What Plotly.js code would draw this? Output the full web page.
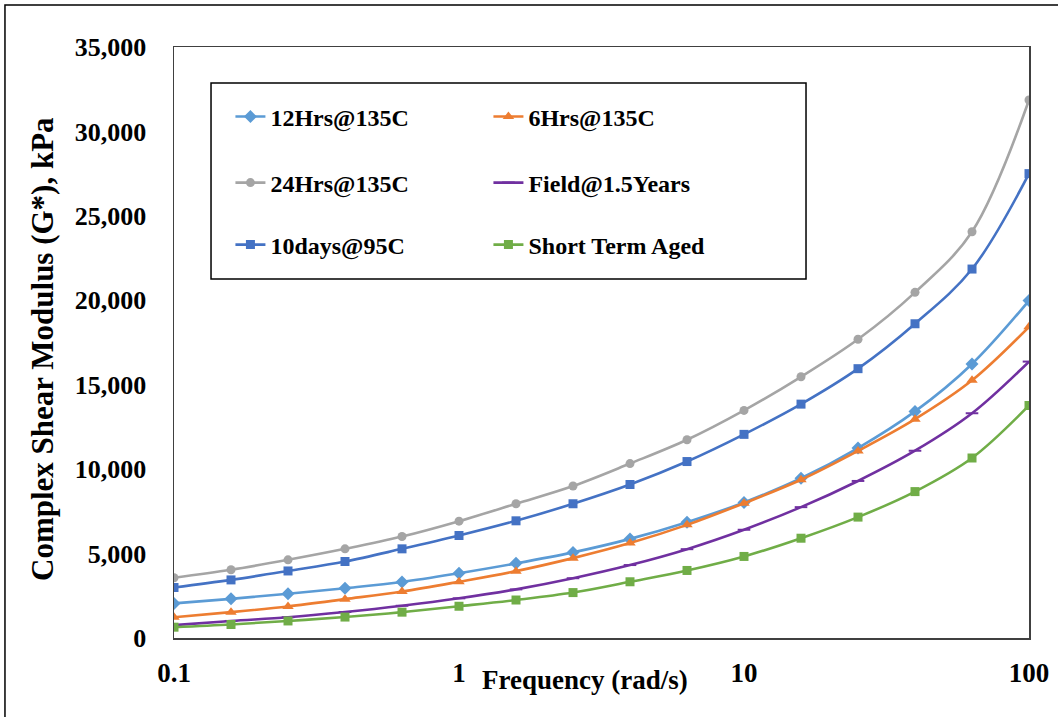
<!DOCTYPE html>
<html>
<head>
<meta charset="utf-8">
<script src="https://cdn.plot.ly/plotly-3.0.1.min.js"></script>
<style>html,body{margin:0;padding:0;background:#fff;}#chart{width:1058px;height:717px;}</style>
</head>
<body>
<div id="chart"></div>
<script>
// Frequency (rad/s)
var freq = [0.1, 0.1585, 0.2512, 0.3981, 0.631, 1, 1.585, 2.512, 3.981, 6.31, 10, 15.85, 25.12, 39.81, 63.1, 100];
// Complex shear modulus G*, kPa
var hrs12_135 = [2050, 2320, 2620, 2950, 3320, 3840, 4420, 5070, 5870, 6860, 8030, 9460, 11250, 13420, 16230, 19980];
var hrs6_135 = [1230, 1530, 1870, 2300, 2750, 3330, 3960, 4730, 5620, 6700, 7980, 9370, 11080, 12960, 15260, 18430];
var hrs24_135 = [3570, 4040, 4630, 5280, 6010, 6920, 7950, 9000, 10330, 11740, 13480, 15470, 17690, 20470, 24060, 31860];
var field15 = [760, 1010, 1230, 1540, 1910, 2350, 2880, 3540, 4320, 5260, 6410, 7750, 9300, 11090, 13310, 16370];
var days10_95 = [2990, 3440, 3970, 4530, 5280, 6070, 6940, 7950, 9090, 10450, 12060, 13850, 15950, 18610, 21850, 27500];
var shortTerm = [640, 800, 1010, 1240, 1530, 1880, 2250, 2690, 3330, 4000, 4830, 5910, 7160, 8670, 10660, 13770];

var seriesNames = ['12Hrs@135C', '6Hrs@135C', '24Hrs@135C', 'Field@1.5Years', '10days@95C', 'Short Term Aged'];
var xTickVals = [0.1, 1, 10, 100];
var xTickText = ['0.1', '1', '10', '100'];

var FONT = 'Liberation Serif, Times New Roman, serif';

function tr(name, y, color, symbol, size, legend, extra) {
  var t = {
    type: 'scatter', mode: 'lines+markers', name: name, x: freq, y: y,
    line: {color: color, width: 2.6, shape: 'spline', smoothing: 1},
    marker: {color: color, symbol: symbol, size: size},
    legend: legend
  };
  if (extra) t.marker.line = extra;
  return t;
}

var data = [
  tr(seriesNames[0], hrs12_135, '#5B9BD5', 'diamond', 10, 'legend'),
  tr(seriesNames[1], hrs6_135, '#ED7D31', 'triangle-up', 10, 'legend'),
  tr(seriesNames[2], hrs24_135, '#A5A5A5', 'circle', 9, 'legend2'),
  tr(seriesNames[3], field15, '#7030A0', 'line-ew', 9, 'legend2', {color: '#7030A0', width: 2}),
  tr(seriesNames[4], days10_95, '#4472C4', 'square', 9, 'legend3'),
  tr(seriesNames[5], shortTerm, '#70AD47', 'square', 9, 'legend3')
];

function leg(y) {
  return {
    x: 0.066, y: y, xanchor: 'left', yanchor: 'middle', orientation: 'h',
    entrywidth: 213, itemwidth: 30, bgcolor: 'rgba(0,0,0,0)', borderwidth: 0,
    font: {family: FONT, size: 24, color: '#000', weight: 'bold'}
  };
}

var layout = {
  width: 1058, height: 717, autosize: false,
  margin: {l: 174, r: 29, t: 47, b: 79},
  paper_bgcolor: '#fff', plot_bgcolor: '#fff',
  font: {family: FONT, color: '#000'},
  showlegend: true,
  xaxis: {
    type: 'log', range: [-1, 2], tickvals: xTickVals, ticktext: xTickText,
    showgrid: false, zeroline: false, showline: true, mirror: true,
    linecolor: '#404040', linewidth: 1.5, ticks: '', ticklabelstandoff: 10,
    tickfont: {family: FONT, size: 27, color: '#000', weight: 'bold'}
  },
  yaxis: {
    range: [0, 35000], dtick: 5000, tickformat: ',d',
    showgrid: false, zeroline: false, showline: true, mirror: true,
    linecolor: '#404040', linewidth: 1.5, ticks: '', ticklabelstandoff: 21,
    tickfont: {family: FONT, size: 26, color: '#000', weight: 'bold'}
  },
  legend: leg(0.8816),
  legend2: leg(0.7699),
  legend3: leg(0.665),
  shapes: [
    {type: 'rect', xref: 'paper', yref: 'paper', x0: 0.0433, x1: 0.7392, y0: 0.6074, y1: 0.9391,
     line: {color: '#000', width: 1.5}, fillcolor: 'rgba(0,0,0,0)', layer: 'below'},
    {type: 'rect', xref: 'paper', yref: 'paper', x0: -0.1977, x1: 1.048, y0: -0.1557, y1: 1.0711,
     line: {color: '#000', width: 1.5}, fillcolor: 'rgba(0,0,0,0)', layer: 'below'}
  ],
  annotations: [
    {text: 'Frequency (rad/s)', xref: 'paper', yref: 'paper', x: 0.4807, y: -0.0711,
     xanchor: 'center', yanchor: 'middle', showarrow: false,
     font: {family: FONT, size: 27, color: '#000', weight: 'bold'}},
    {text: 'Complex Shear Modulus (G*), kPa', xref: 'paper', yref: 'paper', x: -0.1544, y: 0.489,
     xanchor: 'center', yanchor: 'middle', showarrow: false, textangle: -90,
     font: {family: FONT, size: 31, color: '#000', weight: 'bold'}}
  ]
};

Plotly.newPlot('chart', data, layout, {displayModeBar: false, staticPlot: true});
</script>
</body>
</html>
